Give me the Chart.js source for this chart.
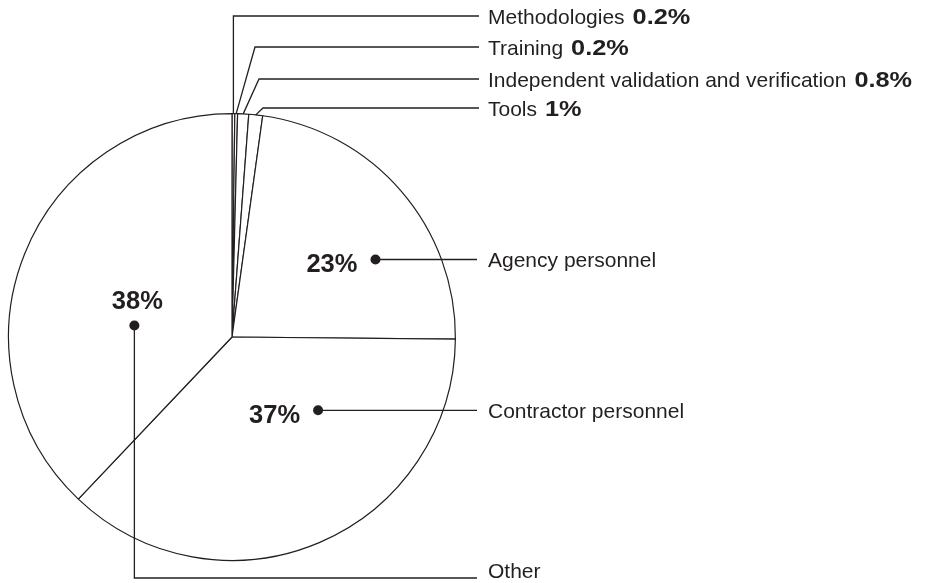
<!DOCTYPE html>
<html>
<head>
<meta charset="utf-8">
<script src="https://cdn.jsdelivr.net/npm/chart.js@4.4.0/dist/chart.umd.min.js"></script>
<style>
  html, body { margin: 0; padding: 0; background: #fff; }
  #wrap { width: 938px; height: 583px; position: relative; }
</style>
</head>
<body>
<div id="wrap"><canvas id="pie"></canvas></div>
<script>
const categories = ['Methodologies', 'Training', 'Independent validation and verification', 'Tools',
  'Agency personnel', 'Contractor personnel', 'Other'];
const shares = [0.2, 0.2, 0.8, 1, 23, 37, 38];

const INK = '#231f20';
const FONT = '"Liberation Sans", Arial, Helvetica, sans-serif';
const textX = 488;
const lineEnd = 479;

// thin slices: label row y and where the leader bends
const smallLabels = {
  0: { y: 16, elbowX: null },
  1: { y: 47, elbowX: 255 },
  2: { y: 79, elbowX: 259 },
  3: { y: 108, elbowX: 263 }
};
// big slices: dot placed at a fraction of the slice angle and radius
const bigLabels = {
  4: { a: 0.65, r: 0.73, style: 'left' },
  5: { a: 0.30, r: 0.506, style: 'left' },
  6: { a: 0.39, r: 0.44, style: 'down', rowY: 578 }
};

function pct(v) { return v + '%'; }

const leaders = {
  id: 'leaders',
  afterDraw(chart) {
    const ctx = chart.ctx;
    const arcs = chart.getDatasetMeta(0).data;
    ctx.save();
    ctx.strokeStyle = INK;
    ctx.fillStyle = INK;
    ctx.lineWidth = 1.3;
    arcs.forEach((arc, i) => {
      const p = arc.getProps(['x', 'y', 'startAngle', 'endAngle', 'outerRadius'], true);
      if (smallLabels[i]) {
        const s = smallLabels[i];
        const mid = (p.startAngle + p.endAngle) / 2;
        const ax = p.x + p.outerRadius * Math.cos(mid);
        const ay = p.y + p.outerRadius * Math.sin(mid);
        const ex = s.elbowX === null ? ax : s.elbowX;
        ctx.beginPath();
        ctx.moveTo(ax, ay);
        ctx.lineTo(ex, s.y);
        ctx.lineTo(lineEnd, s.y);
        ctx.stroke();
        ctx.textBaseline = 'alphabetic';
        ctx.textAlign = 'left';
        ctx.font = '21px ' + FONT;
        const base = s.y + 8;
        ctx.fillText(categories[i], textX, base);
        const w = ctx.measureText(categories[i]).width;
        // the bold figures are set wider than the text face
        ctx.save();
        ctx.translate(textX + w + 8, base);
        ctx.scale(1.15, 1);
        ctx.font = 'bold 22px ' + FONT;
        ctx.fillText(pct(shares[i]), 0, 0);
        ctx.restore();
      } else if (bigLabels[i]) {
        const b = bigLabels[i];
        const ang = p.startAngle + (p.endAngle - p.startAngle) * b.a;
        const dx = p.x + p.outerRadius * b.r * Math.cos(ang);
        const dy = p.y + p.outerRadius * b.r * Math.sin(ang);
        ctx.beginPath();
        ctx.arc(dx, dy, 5, 0, Math.PI * 2);
        ctx.fill();
        ctx.beginPath();
        ctx.moveTo(dx, dy);
        if (b.style === 'down') {
          ctx.lineTo(dx, b.rowY);
          ctx.lineTo(lineEnd - 2, b.rowY);
        } else {
          ctx.lineTo(lineEnd - 2, dy);
        }
        ctx.stroke();
        ctx.font = '21px ' + FONT;
        ctx.textAlign = 'left';
        ctx.textBaseline = 'alphabetic';
        if (b.style === 'down') {
          ctx.fillText(categories[i], textX, b.rowY);
          ctx.font = 'bold 25.5px ' + FONT;
          ctx.textAlign = 'center';
          ctx.fillText(pct(shares[i]), dx + 3, dy - 16.5);
        } else {
          ctx.fillText(categories[i], textX, dy + 7.5);
          ctx.font = 'bold 25.5px ' + FONT;
          ctx.textAlign = 'right';
          ctx.fillText(pct(shares[i]), dx - 18, dy + 12.7);
        }
      }
    });
    ctx.restore();
  }
};

new Chart(document.getElementById('pie'), {
  type: 'pie',
  data: {
    labels: categories,
    datasets: [{
      data: shares,
      backgroundColor: '#ffffff',
      borderColor: INK,
      borderWidth: 1.2,
      hoverOffset: 0,
      offset: 0
    }]
  },
  options: {
    responsive: true,
    maintainAspectRatio: false,
    animation: false,
    events: [],
    layout: { padding: { left: 8, top: 113, right: 482, bottom: 22 } },
    plugins: {
      legend: { display: false },
      tooltip: { enabled: false }
    }
  },
  plugins: [leaders]
});
</script>
</body>
</html>
